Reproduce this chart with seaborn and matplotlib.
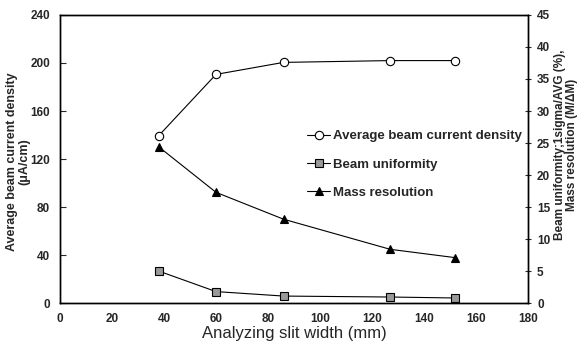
import pandas as pd
import matplotlib
matplotlib.use("Agg")
import matplotlib.pyplot as plt
import seaborn as sns

# ============================================================
# Data
# ============================================================

slit_width = [38, 60, 86, 127, 152]
current_density = [139.5, 190.5, 200.5, 202, 202]      # left axis
beam_uniformity = [5.0, 1.8, 1.1, 0.95, 0.8]           # right axis
mass_resolution = [24.4, 17.3, 13.1, 8.4, 7.1]         # right axis

df = pd.DataFrame({
    "width": slit_width,
    "current": current_density,
    "uniformity": beam_uniformity,
    "resolution": mass_resolution,
})

sns.set_style("white")
plt.rcParams["font.family"] = ["Liberation Sans", "DejaVu Sans"]

fig = plt.figure(figsize=(5.8, 3.48), dpi=100)
ax = fig.add_axes([0.1034, 0.129, 0.807, 0.828])
ax2 = ax.twinx()

line_kw = dict(color="black", linewidth=0.8, markeredgecolor="black",
               markeredgewidth=0.8, markersize=6)

sns.lineplot(data=df, x="width", y="current", ax=ax, marker="o",
             markerfacecolor="white", label="Average beam current density", **line_kw)
sns.lineplot(data=df, x="width", y="uniformity", ax=ax2, marker="s",
             markerfacecolor="#999999", label="Beam uniformity", **line_kw)
sns.lineplot(data=df, x="width", y="resolution", ax=ax2, marker="^",
             markerfacecolor="black", label="Mass resolution", **line_kw)

ax.set_xlim(0, 180)
ax.set_ylim(0, 240)
ax2.set_ylim(0, 45)
ax.set_xticks(range(0, 181, 20))
ax.set_yticks(range(0, 241, 40))
ax2.set_yticks(range(0, 46, 5))

for a in (ax, ax2):
    for s in a.spines.values():
        s.set_color("black")
        s.set_linewidth(1.0)

ax.tick_params(axis="both", direction="in", length=4, width=0.8, labelsize=8.5, pad=7)
ax2.tick_params(axis="y", direction="inout", length=5, width=0.8, labelsize=8.5, pad=4)
for lab in ax.get_xticklabels() + ax.get_yticklabels() + ax2.get_yticklabels():
    lab.set_fontweight("bold")

ax.set_xlabel("Analyzing slit width (mm)", fontsize=12, labelpad=1)
ax.set_ylabel("Average beam current density\n(\u03bcA/cm)", fontsize=9,
              fontweight="bold", linespacing=0.95)
ax.yaxis.set_label_coords(-0.064, 0.49)
ax2.set_ylabel("Beam uniformity;1sigma/AVG (%),\nMass resolution (M/\u0394M)",
               fontsize=8.5, fontweight="bold", linespacing=0.95)
ax2.yaxis.set_label_coords(1.056, 0.55)

# single legend combining both axes
h1, l1 = ax.get_legend_handles_labels()
h2, l2 = ax2.get_legend_handles_labels()
ax.get_legend().remove()
ax2.get_legend().remove()
leg = ax2.legend(h1 + h2, l1 + l2, loc="upper left", bbox_to_anchor=(0.528, 0.60),
                 frameon=False, fontsize=9.5, handlelength=1.75, handletextpad=0.25,
                 labelspacing=1.2, borderaxespad=0, borderpad=0)
for t in leg.get_texts():
    t.set_fontweight("bold")

fig.savefig("out.png", dpi=100)
